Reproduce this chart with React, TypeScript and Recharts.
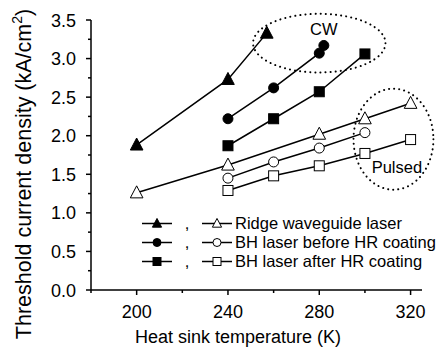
import { Label, Legend, Line, LineChart, ReferenceArea, ReferenceDot, XAxis, YAxis } from "recharts";

const FONT = '"Liberation Sans", Arial, Helvetica, sans-serif';

// heat sink temperature (K) / threshold current density (kA/cm2)
const ridgeCwT = [200, 240, 257];
const ridgeCwJ = [1.88, 2.73, 3.33];
const bhBeforeCwT = [240, 260, 280, 282];
const bhBeforeCwJ = [2.22, 2.62, 3.07, 3.17];
const bhAfterCwT = [240, 260, 280, 300];
const bhAfterCwJ = [1.87, 2.22, 2.57, 3.06];
const ridgePulsedT = [200, 240, 280, 300, 320];
const ridgePulsedJ = [1.26, 1.62, 2.02, 2.22, 2.42];
const bhBeforePulsedT = [240, 260, 280, 300];
const bhBeforePulsedJ = [1.45, 1.66, 1.84, 2.04];
const bhAfterPulsedT = [240, 260, 280, 300, 320];
const bhAfterPulsedJ = [1.29, 1.48, 1.61, 1.77, 1.95];

const xTicks = [180, 200, 220, 240, 260, 280, 300, 320];
const yTicks = [0, 0.25, 0.5, 0.75, 1, 1.25, 1.5, 1.75, 2, 2.25, 2.5, 2.75, 3, 3.25, 3.5];
const legendLabels = ["Ridge waveguide laser", "BH laser before HR coating", "BH laser after HR coating"];
const legendShapes: Shape[] = ["triangle", "circle", "square"];

// dotted ellipses around the CW and pulsed groups (data units)
const cwRegion = { x1: 251, x2: 309, y1: 2.82, y2: 3.58 };
const pulsedRegion = { x1: 295, x2: 330, y1: 1.3, y2: 2.61 };

type Shape = "triangle" | "circle" | "square";

const toPoints = (t: number[], j: number[]) => t.map((v, i) => ({ t: v, j: j[i] }));

const series: { key: string; data: { t: number; j: number }[]; shape: Shape; filled: boolean }[] = [
  { key: "ridgeCw", data: toPoints(ridgeCwT, ridgeCwJ), shape: "triangle", filled: true },
  { key: "bhBeforeCw", data: toPoints(bhBeforeCwT, bhBeforeCwJ), shape: "circle", filled: true },
  { key: "bhAfterCw", data: toPoints(bhAfterCwT, bhAfterCwJ), shape: "square", filled: true },
  { key: "ridgePulsed", data: toPoints(ridgePulsedT, ridgePulsedJ), shape: "triangle", filled: false },
  { key: "bhBeforePulsed", data: toPoints(bhBeforePulsedT, bhBeforePulsedJ), shape: "circle", filled: false },
  { key: "bhAfterPulsed", data: toPoints(bhAfterPulsedT, bhAfterPulsedJ), shape: "square", filled: false },
];

function Marker({ cx, cy, shape, filled, size }: { cx: number; cy: number; shape: Shape; filled: boolean; size: number }) {
  const fill = filled ? "#000" : "#fff";
  if (shape === "triangle") {
    const s = size * 1.15;
    const pts = `${cx},${cy - s * 0.55} ${cx - s / 2},${cy + s * 0.4} ${cx + s / 2},${cy + s * 0.4}`;
    return <polygon points={pts} fill={fill} stroke="#000" strokeWidth={1} />;
  }
  if (shape === "circle") {
    return <circle cx={cx} cy={cy} r={size / 2} fill={fill} stroke="#000" strokeWidth={1} />;
  }
  return <rect x={cx - size / 2} y={cy - size / 2} width={size} height={size} fill={fill} stroke="#000" strokeWidth={1} />;
}

function XTick({ x, y, payload }: any) {
  const major = payload.value % 40 === 0;
  return (
    <g>
      <line x1={x} y1={y} x2={x} y2={y + (major ? 5 : 3)} stroke="#000" strokeWidth={1.5} />
      {major && (
        <text x={x} y={y + 28} textAnchor="middle" fontSize={18} fontFamily={FONT} fill="#000">
          {payload.value}
        </text>
      )}
    </g>
  );
}

function YTick({ x, y, payload }: any) {
  const v = payload.value as number;
  const major = Math.abs(v * 2 - Math.round(v * 2)) < 1e-6;
  return (
    <g>
      <line x1={x} y1={y} x2={x - (major ? 5 : 3)} y2={y} stroke="#000" strokeWidth={1.5} />
      {major && (
        <text x={x - 15} y={y + 6.5} textAnchor="end" fontSize={18} fontFamily={FONT} fill="#000">
          {v.toFixed(1)}
        </text>
      )}
    </g>
  );
}

function Ellipse(p: any) {
  return (
    <ellipse
      cx={p.x + p.width / 2}
      cy={p.y + p.height / 2}
      rx={Math.abs(p.width) / 2}
      ry={Math.abs(p.height) / 2}
      fill="none"
      stroke="#000"
      strokeWidth={2}
      strokeDasharray="0.1 5"
      strokeLinecap="round"
    />
  );
}

function LegendIcon({ shape, filled }: { shape: Shape; filled: boolean }) {
  return (
    <svg width={32} height={19} style={{ display: "block" }}>
      <line x1={1} y1={9.5} x2={31} y2={9.5} stroke="#000" strokeWidth={1.5} />
      <Marker cx={16} cy={9.5} shape={shape} filled={filled} size={8} />
    </svg>
  );
}

function LegendBox() {
  return (
    <div style={{ fontFamily: FONT, fontSize: 16.5, color: "#000", lineHeight: "19.2px" }}>
      {legendLabels.map((label, i) => (
        <div key={label} style={{ display: "flex", alignItems: "center", height: 19.2, whiteSpace: "nowrap" }}>
          <div style={{ marginLeft: 2 }}>
            <LegendIcon shape={legendShapes[i]} filled />
          </div>
          <span style={{ width: 28, textAlign: "center", color: "#000" }}>,</span>
          <LegendIcon shape={legendShapes[i]} filled={false} />
          <span style={{ marginLeft: 2 }}>{label}</span>
        </div>
      ))}
    </div>
  );
}

export default function App() {
  return (
    <div style={{ position: "absolute", left: 0, top: 0, background: "#fff" }}>
      <LineChart width={438} height={356} margin={{ top: 20, right: 16, bottom: 0, left: 0 }}>
        <XAxis
          type="number"
          dataKey="t"
          domain={[180, 325]}
          ticks={xTicks}
          interval={0}
          tickSize={0}
          tickMargin={0}
          tick={<XTick />}
          height={66}
          axisLine={{ stroke: "#000", strokeWidth: 1.5 }}
          tickLine={false}
        >
          <Label
            content={() => (
              <text x={238} y={343} textAnchor="middle" fontSize={18} fontFamily={FONT} fill="#000">
                Heat sink temperature (K)
              </text>
            )}
          />
        </XAxis>
        <YAxis
          type="number"
          dataKey="j"
          domain={[0, 3.5]}
          ticks={yTicks}
          interval={0}
          tickSize={0}
          tickMargin={0}
          tick={<YTick />}
          width={91}
          axisLine={{ stroke: "#000", strokeWidth: 1.5 }}
          tickLine={false}
        >
          <Label
            content={() => (
              <text
                x={31}
                y={174}
                transform="rotate(-90 31 174)"
                textAnchor="middle"
                fontSize={21.5}
                fontFamily={FONT}
                fill="#000"
              >
                Threshold current density (kA/cm
                <tspan dy={-9} fontSize={14}>2</tspan>
                <tspan dy={9}>)</tspan>
              </text>
            )}
          />
        </YAxis>
        <ReferenceArea {...cwRegion} ifOverflow="visible" shape={Ellipse} />
        <ReferenceArea {...pulsedRegion} ifOverflow="visible" shape={Ellipse} />
        <ReferenceDot
          x={282}
          y={3.38}
          ifOverflow="visible"
          shape={(p: any) => (
            <text x={p.cx} y={p.cy + 6} textAnchor="middle" fontSize={16.5} fontFamily={FONT} fill="#000">
              CW
            </text>
          )}
        />
        <ReferenceDot
          x={314}
          y={1.59}
          ifOverflow="visible"
          shape={(p: any) => (
            <text x={p.cx} y={p.cy + 6} textAnchor="middle" fontSize={16.5} fontFamily={FONT} fill="#000">
              Pulsed
            </text>
          )}
        />
        {series.map((s) => (
          <Line
            key={s.key}
            data={s.data}
            dataKey="j"
            type="linear"
            stroke="#000"
            strokeWidth={1.5}
            isAnimationActive={false}
            dot={(p: any) => (
              <Marker
                key={`${s.key}-${p.index}`}
                cx={p.cx}
                cy={p.cy}
                shape={s.shape}
                filled={s.filled}
                size={s.shape === "triangle" ? 11 : 10}
              />
            )}
            activeDot={false}
          />
        ))}
        <Legend
          layout="vertical"
          align="center"
          verticalAlign="middle"
          content={() => <LegendBox />}
          wrapperStyle={{ position: "absolute", left: 139, top: 213.5, width: 300, height: 60 }}
        />
      </LineChart>
    </div>
  );
}
